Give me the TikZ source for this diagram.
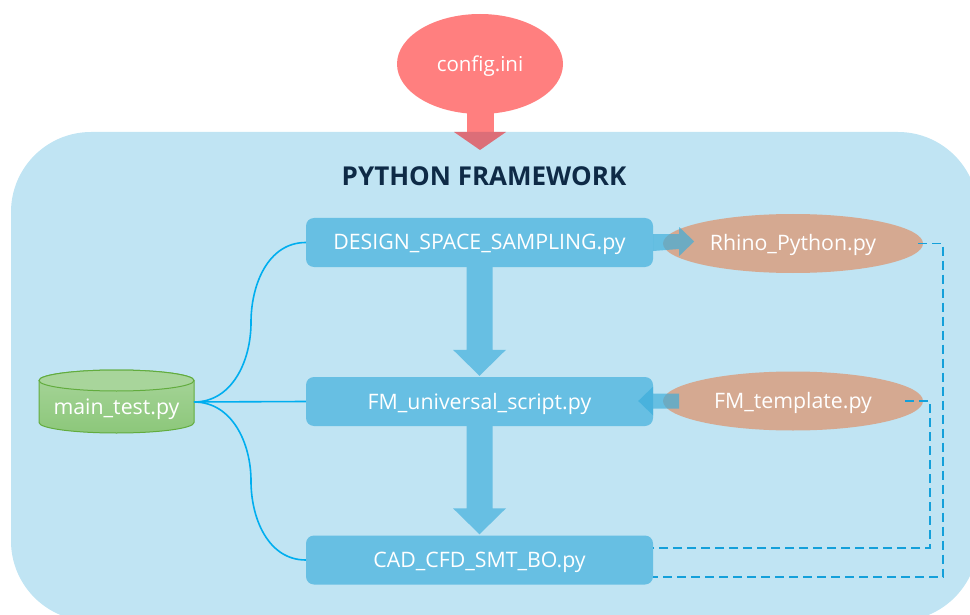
\documentclass[tikz,border=0pt]{standalone}
\usepackage{fontspec}
\setmainfont{Open Sans}
\usetikzlibrary{shapes.geometric,calc}

\definecolor{frameblue}{RGB}{192,228,243}
\definecolor{boxblue}{RGB}{103,191,227}
\definecolor{overblue}{RGB}{59,173,219}
\definecolor{cfgred}{RGB}{255,127,127}
\definecolor{cfgdark}{RGB}{220,110,120}
\definecolor{tan}{RGB}{213,169,145}
\definecolor{navy}{RGB}{14,42,70}
\definecolor{linkblue}{RGB}{0,174,239}
\definecolor{dashblue}{RGB}{20,160,218}
\definecolor{cylfill}{RGB}{140,199,122}
\definecolor{cyltop}{RGB}{168,213,155}
\definecolor{cylline}{RGB}{98,172,62}

\begin{document}
\begin{tikzpicture}[x=1pt,y=-1pt,
  label/.style={text=white,font=\fontsize{21.3}{24}\selectfont,text height=15pt,text depth=0pt},
  pybox/.style={label,fill=boxblue,rounded corners=8pt,minimum width=347pt,
    minimum height=49pt,inner sep=0pt},
  pyfile/.style={label,ellipse,fill=tan,minimum width=260pt,minimum height=59pt,inner sep=0pt},
  link/.style={draw=linkblue,line width=1.6pt},
  dashlink/.style={draw=dashblue,line width=1.8pt,dash pattern=on 9pt off 5pt},
  flow/.style={fill=boxblue},
  sidearrow/.style={fill=overblue,fill opacity=0.67}]
\useasboundingbox (0,0) rectangle (970,615);

% framework panel, running off the right and bottom edges
\begin{scope}
  \clip (0,0) rectangle (970,615);
  \fill[frameblue,rounded corners=80pt] (11,132) rectangle (978,621);
\end{scope}

% configuration file feeding the framework
\node[ellipse,fill=cfgred,minimum width=166pt,minimum height=100pt,inner sep=0pt,
  text=white,font=\fontsize{20.5}{24}\selectfont,text height=15pt,text depth=0pt]
  (cfg) at (480,64) {config.ini};
\fill[cfgred] ([xshift=-13.5pt,yshift=4pt]cfg.south) rectangle (493.5,132);
\fill[cfgdark] (454,132) -- (506,132) -- (480,150) -- cycle;

\node[text=navy,font=\fontsize{26}{30}\selectfont\bfseries] (title) at (484,176) {PYTHON FRAMEWORK};

% main scripts
\node[pybox] (dss) at (479.5,242.5) {DESIGN\_SPACE\_SAMPLING.py};
\node[pybox] (fmu) at (479.5,401.5) {FM\_universal\_script.py};
\node[pybox] (cad) at (479.5,560) {CAD\_CFD\_SMT\_BO.py};

% auxiliary files
\node[pyfile] (rhino) at (793,243.5) {Rhino\_Python.py};
\node[pyfile] (tpl) at (793,401) {FM\_template.py};

% block arrows between the main scripts
\fill[flow] ([xshift=-13pt]dss.south) -- ([xshift=-13pt,yshift=27pt]fmu.north)
  -- ([xshift=-26.5pt,yshift=27pt]fmu.north) -- ([yshift=1pt]fmu.north)
  -- ([xshift=26.5pt,yshift=27pt]fmu.north) -- ([xshift=13pt,yshift=27pt]fmu.north)
  -- ([xshift=13pt]dss.south) -- cycle;
\fill[flow] ([xshift=-13pt]fmu.south) -- ([xshift=-13pt,yshift=27pt]cad.north)
  -- ([xshift=-26.5pt,yshift=27pt]cad.north) -- ([yshift=1pt]cad.north)
  -- ([xshift=26.5pt,yshift=27pt]cad.north) -- ([xshift=13pt,yshift=27pt]cad.north)
  -- ([xshift=13pt]fmu.south) -- cycle;

% side arrows to and from the auxiliary files
\fill[sidearrow] ([yshift=8.5pt]dss.east) -- ++(26,0) -- ++(0,-7) -- ++(15,14.5)
  -- ++(-15,14.5) -- ++(0,-7) -- ([yshift=-8.5pt]dss.east) -- cycle;
\fill[sidearrow] ([xshift=26pt,yshift=8pt]fmu.east) -- ++(-26,0) -- ++(0,-7)
  -- ++(-15,14.5) -- ++(15,14.5) -- ++(0,-7) -- ++(26,0) -- cycle;

% main test database
\path[draw=cylline,line width=1pt,top color=cyltop,bottom color=cylfill]
  (39,380.5) -- (39,422.5)
  arc[start angle=180,end angle=360,x radius=77.5pt,y radius=10.5pt]
  -- (194,380.5)
  arc[start angle=0,end angle=180,x radius=77.5pt,y radius=10.5pt] -- cycle;
\draw[cylline,line width=1pt,fill=cyltop] (116.5,380.5) ellipse[x radius=77.5pt,y radius=10.5pt];
\node[label] (mt) at (116.5,407) {main\_test.py};
\coordinate (mtport) at (194,402);

% calls from the test script
\draw[link] (mtport) to[out=0,in=270] (251,322.5) to[out=90,in=180] (dss.west);
\draw[link] (mtport) -- (fmu.west);
\draw[link] (mtport) to[out=0,in=90] (251,481) to[out=270,in=180] (cad.west);

% file links back to the optimisation script
\draw[dashlink] ([xshift=-5pt]rhino.east) -- ++(25,0) |- ([yshift=-17pt]cad.east);
\draw[dashlink] ([xshift=-18pt]tpl.east) -- ++(25,0) |- ([yshift=12pt]cad.east);
\end{tikzpicture}
\end{document}
